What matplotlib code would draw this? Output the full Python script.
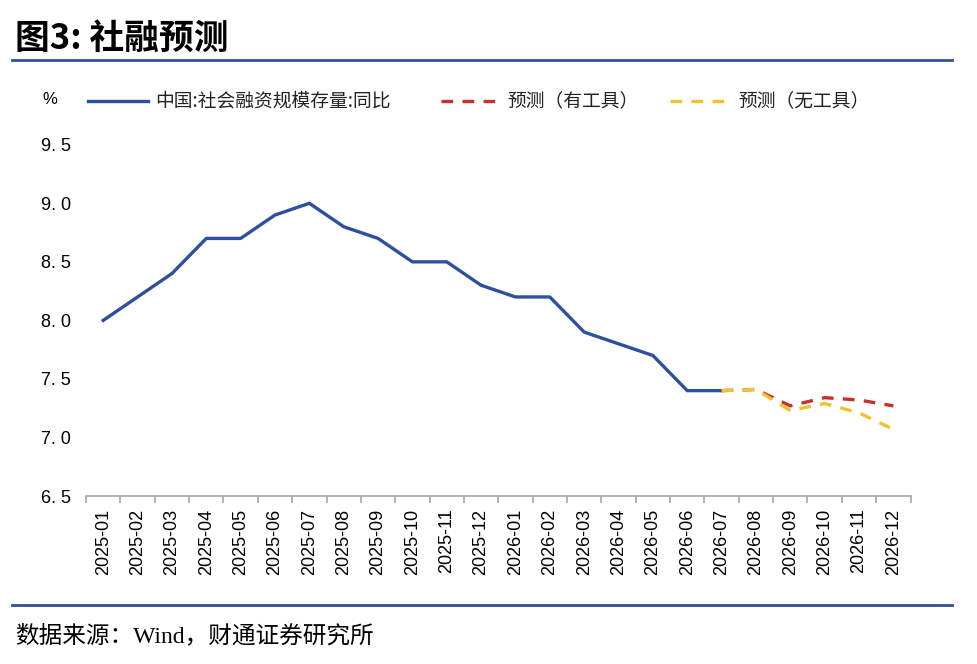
import numpy as np
import matplotlib.pyplot as plt
from matplotlib.lines import Line2D

plt.rcParams['font.family'] = ['Liberation Sans', 'Noto Sans CJK SC', 'DejaVu Sans']

# Data
months = ['2025-01', '2025-02', '2025-03', '2025-04', '2025-05', '2025-06',
          '2025-07', '2025-08', '2025-09', '2025-10', '2025-11', '2025-12',
          '2026-01', '2026-02', '2026-03', '2026-04', '2026-05', '2026-06',
          '2026-07', '2026-08', '2026-09', '2026-10', '2026-11', '2026-12']
actual = [8.0, 8.2, 8.4, 8.7, 8.7, 8.9, 9.0, 8.8, 8.7, 8.5, 8.5, 8.3,
          8.2, 8.2, 7.9, 7.8, 7.7, 7.4, 7.4]
forecast_tool = [7.4, 7.41, 7.27, 7.34, 7.32, 7.27]
forecast_notool = [7.4, 7.41, 7.23, 7.29, 7.21, 7.07]
labels = ['中国:社会融资规模存量:同比', '预测（有工具）', '预测（无工具）']

blue = '#2E4F9E'
red = '#C8302E'
yellow = '#F0C232'
dash = (3.5, 2.8)

fig = plt.figure(figsize=(9.78, 6.64), dpi=100)
ax = fig.add_axes([0.088, 0.253, 0.843, 0.529])

x = np.arange(len(months))
xa = x[:len(actual)]
xf = x[len(actual) - 1:]

ax.plot(xa, actual, color=blue, lw=2.4)
ax.plot(xf, forecast_tool, color=red, lw=2.4, dashes=dash)
ax.plot(xf, forecast_notool, color=yellow, lw=2.4, dashes=dash)

ax.set_xlim(-0.5, len(months) - 0.5)
ax.set_ylim(6.5, 9.5)
ax.set_yticks([6.5, 7.0, 7.5, 8.0, 8.5, 9.0, 9.5])
ax.set_yticklabels(['6. 5', '7. 0', '7. 5', '8. 0', '8. 5', '9. 0', '9. 5'], fontsize=13)

# category labels at centers, tick marks at boundaries
ax.set_xticks(x)
ax.set_xticklabels(months, rotation=90, fontsize=13)
ax.set_xticks(np.arange(-0.5, len(months)), minor=True)
ax.tick_params(axis='x', which='major', length=0, pad=9)
ax.tick_params(axis='x', which='minor', length=5, color='#A6A6A6', width=1.2)
ax.tick_params(axis='y', length=0, pad=11)

for s in ['top', 'right', 'left']:
    ax.spines[s].set_visible(False)
ax.spines['bottom'].set_color('#A6A6A6')
ax.spines['bottom'].set_linewidth(1.2)

# Legend, laid out by hand to match the spacing of the original
W, H = 978, 664
ly = 1 - 101 / H
legend_spots = [(88, 148, 155, blue, None), (441, 500, 507, red, dash), (670, 730, 738, yellow, dash)]
for (x0, x1, xt, c, d), lab in zip(legend_spots, labels):
    ln = Line2D([x0 / W, x1 / W], [ly, ly], color=c, lw=2.4)
    if d:
        ln.set_dashes(d)
    fig.add_artist(ln)
    fig.text(xt / W, ly, lab, fontsize=13.5, ha='left', va='center',
             family=['Noto Sans CJK SC'], color='#222222')

fig.text(0.043, 1 - 100 / H, '%', fontsize=12, ha='left', va='center')

# Title and source
fig.text(0.015, 0.943, '图3: 社融预测', fontsize=25, fontweight='bold', ha='left', va='center',
         family=['Noto Sans CJK SC'])
fig.add_artist(Line2D([0.012, 0.973], [0.910, 0.910], color=blue, lw=2))
fig.add_artist(Line2D([0.012, 0.973], [0.089, 0.089], color=blue, lw=2))
fig.text(0.015, 0.043, '数据来源：Wind，财通证券研究所', fontsize=17, ha='left', va='center',
         family=['Liberation Serif', 'Noto Sans CJK SC'])

fig.savefig('out.png', dpi=100)
